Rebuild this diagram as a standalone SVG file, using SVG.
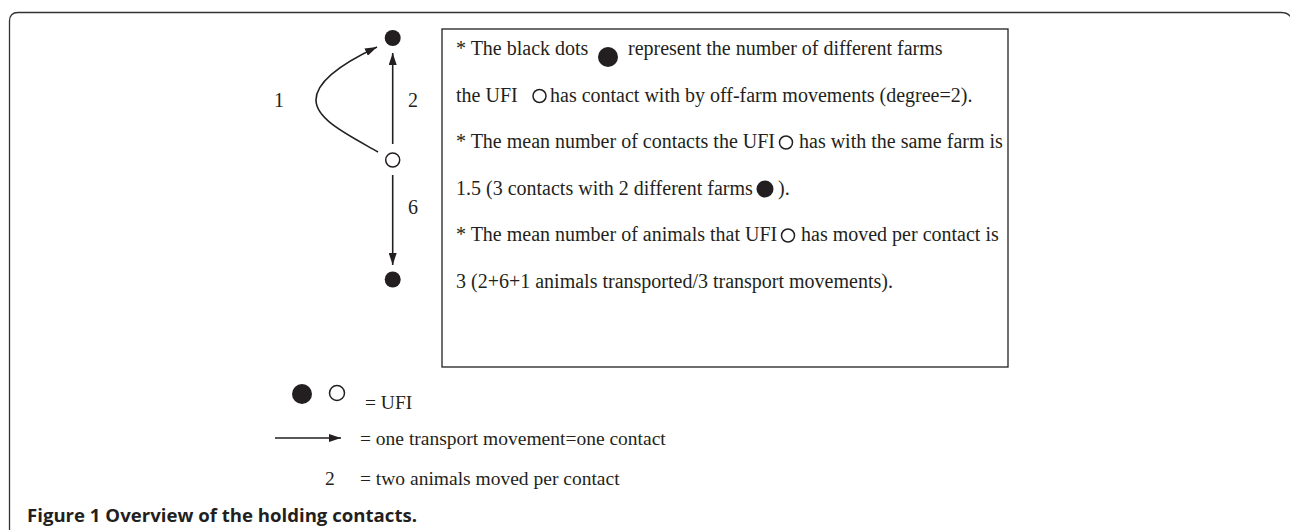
<svg xmlns="http://www.w3.org/2000/svg" width="1290" height="530" viewBox="0 0 1290 530">
<style>
.t{font-family:"Liberation Serif","Times New Roman",serif;font-size:20px;fill:#231f20}
.lg{font-family:"Liberation Serif","Times New Roman",serif;font-size:19.5px;fill:#231f20}
.ln{stroke:#231f20;stroke-width:1.6;fill:none}
.dot{fill:#231f20}
.ring{fill:#fff;stroke:#231f20;stroke-width:1.5}
.cap{font-family:"Open Sans","Noto Sans",sans-serif;font-weight:700;font-size:17.5px;fill:#231f20}
</style>
<defs>
<marker id="ah" markerUnits="userSpaceOnUse" markerWidth="12" markerHeight="8" refX="12" refY="4" orient="auto">
<path d="M0,0 L12,4 L0,8 z" fill="#231f20"/>
</marker>
</defs>
<path d="M9.5,530 V21 Q9.5,12.5 18,12.5 H1281 Q1290,12.5 1292,20" fill="none" stroke="#333" stroke-width="1.3"/>
<g id="farm-top"><circle class="dot" cx="392.7" cy="38" r="8"/></g>
<g id="ufi"><circle class="ring" cx="392.7" cy="160" r="7"/></g>
<g id="farm-bottom"><circle class="dot" cx="392.7" cy="279.5" r="8"/></g>
<g id="connectors">
<path class="ln" d="M378,152 C350,136 316,120 316,100 C316,80 345,62 377,47" marker-end="url(#ah)"/>
<line class="ln" x1="392.7" y1="144" x2="392.7" y2="53" marker-end="url(#ah)"/>
<line class="ln" x1="392.7" y1="175" x2="392.7" y2="265" marker-end="url(#ah)"/>
<line class="ln" x1="275" y1="438" x2="341" y2="438" marker-end="url(#ah)"/>
</g>
<g id="edge-labels">
<text class="t" x="274" y="107">1</text>
<text class="t" x="408" y="107">2</text>
<text class="t" x="408" y="214">6</text>
</g>
<g id="textbox">
<rect x="442" y="29" width="566" height="338" fill="none" stroke="#231f20" stroke-width="1.3"/>
<text class="t" x="456" y="55">* The black dots</text>
<circle class="dot" cx="608" cy="57" r="10"/>
<text class="t" x="628" y="55">represent the number of different farms</text>
<text class="t" x="456" y="101.5">the UFI</text>
<circle class="ring" cx="539.5" cy="96" r="6.5"/>
<text class="t" x="550" y="101.5">has contact with by off-farm movements (degree=2).</text>
<text class="t" x="456" y="148">* The mean number of contacts the UFI</text>
<circle class="ring" cx="786" cy="142.5" r="6.5"/>
<text class="t" x="799" y="148">has with the same farm is</text>
<text class="t" x="456" y="194.5">1.5 (3 contacts with 2 different farms</text>
<circle class="dot" cx="765" cy="189" r="8.5"/>
<text class="t" x="778" y="194.5">).</text>
<text class="t" x="456" y="241">* The mean number of animals that UFI</text>
<circle class="ring" cx="788" cy="235.5" r="6.5"/>
<text class="t" x="801" y="241">has moved per contact is</text>
<text class="t" x="456" y="287.5">3 (2+6+1 animals transported/3 transport movements).</text>
</g>
<g id="legend">
<circle class="dot" cx="302" cy="394" r="10"/>
<circle class="ring" cx="337" cy="393" r="7.5"/>
<text class="lg" x="365" y="409">= UFI</text>
<text class="lg" x="360" y="445">= one transport movement=one contact</text>
<text class="lg" x="325" y="485">2</text>
<text class="lg" x="360" y="485">= two animals moved per contact</text>
</g>
<text class="cap" x="27" y="522" textLength="390" lengthAdjust="spacingAndGlyphs">Figure 1 Overview of the holding contacts.</text>
</svg>
